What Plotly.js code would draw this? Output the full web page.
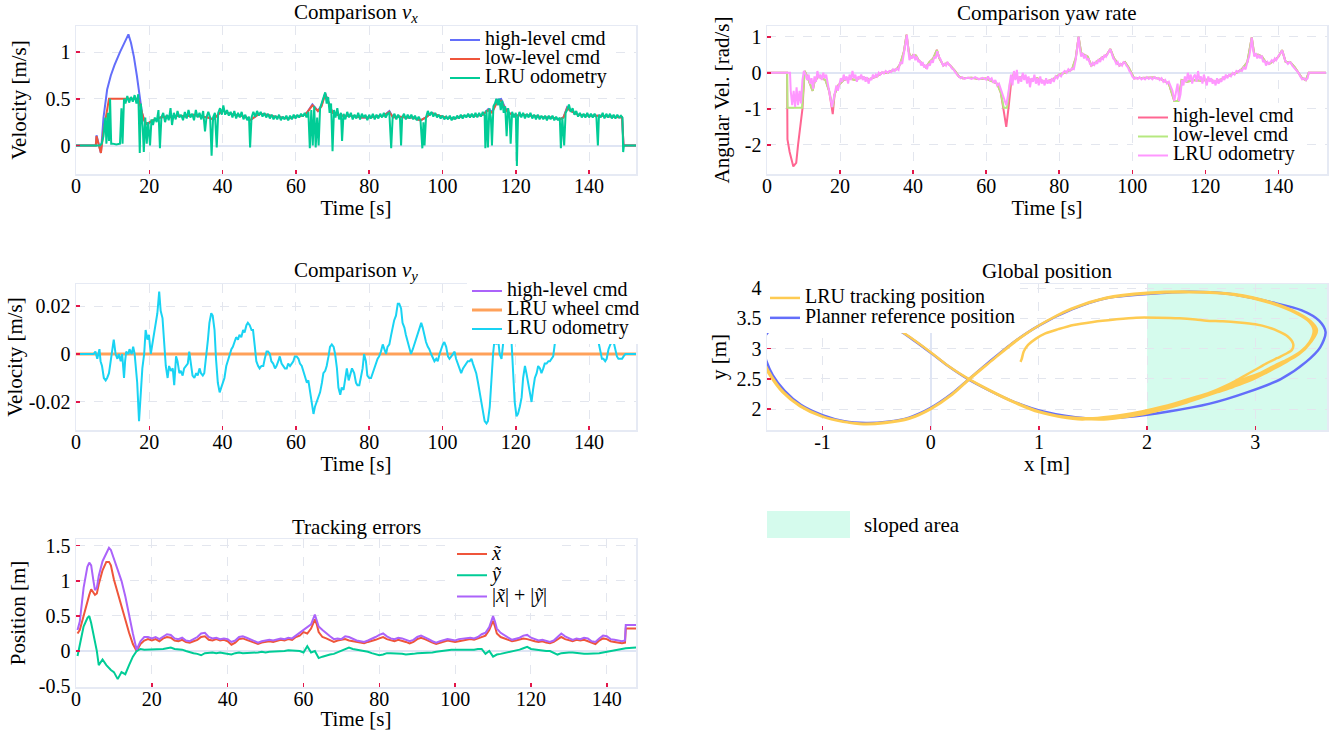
<!DOCTYPE html>
<html><head><meta charset="utf-8">
<script src="https://cdn.plot.ly/plotly-3.0.1.min.js"></script>
<style>body{margin:0;background:#fff}#plot{width:1343px;height:731px}</style>
</head><body><div id="plot"></div>
<script>
// ---------------- DATA ----------------
// Comparison v_x
const vxHighT = [0,5.4,5.6,6.8,7.5,8.5,9.5,10.5,12,13.5,14.3,15,15.8,16.6,17.3,18,18.8,19.5,21,23,25,28,30,32,34,36,37.5,38.5,40,41,43,45,46.5,47.5,48.5,50,52,54,56,58,60,62,63,64.5,66,67,68,69,70,72,75,78,80,82,84,85.5,86.5,88,90,92,94,95.5,97,99,101,103,105,107,109,111,112.5,113.5,115,116,117,118,120,122,124,126,128,130,132,133,134,135,137,140,143,146,149,149.4,153];
const vxHighV = [0,0,0.11,-0.08,0.3,0.6,0.75,0.86,1.0,1.12,1.19,1.1,0.95,0.75,0.55,0.35,0.25,0.23,0.27,0.3,0.31,0.32,0.31,0.33,0.31,0.3,0.28,0.32,0.38,0.35,0.33,0.32,0.3,0.27,0.3,0.34,0.33,0.31,0.3,0.29,0.31,0.32,0.35,0.44,0.37,0.43,0.56,0.45,0.35,0.32,0.32,0.3,0.3,0.31,0.32,0.37,0.3,0.31,0.3,0.3,0.27,0.3,0.35,0.32,0.3,0.29,0.31,0.32,0.32,0.33,0.39,0.36,0.49,0.5,0.41,0.35,0.32,0.33,0.32,0.31,0.3,0.3,0.28,0.3,0.41,0.37,0.33,0.32,0.32,0.31,0.3,0,0];
const vxLowT = [0,5.4,5.6,6.8,7.5,9,12,15,17,17.8,18.6,19.2,21,22,23,25,26,28,30,32,34,36,37.5,38.5,40,41,43,45,46.5,47.5,48.5,50,52,54,56,58,60,62,63,64.5,66,67,68,69,70,72,75,78,80,82,84,85.5,86.5,88,90,92,94,95.5,97,99,101,103,105,107,109,111,112.5,113.5,115,116,117,118,120,122,124,126,128,130,132,133,134,135,137,140,143,146,149,149.4,153];
const vxLowV = [0,0,0.1,-0.08,0.15,0.5,0.5,0.5,0.5,0.38,0.27,0.23,0.27,0.28,0.3,0.31,0.3,0.32,0.31,0.33,0.31,0.3,0.28,0.32,0.38,0.35,0.33,0.32,0.3,0.27,0.3,0.34,0.33,0.31,0.3,0.29,0.31,0.32,0.35,0.43,0.37,0.42,0.55,0.45,0.35,0.32,0.32,0.3,0.3,0.31,0.32,0.36,0.3,0.31,0.3,0.3,0.27,0.3,0.35,0.32,0.3,0.29,0.31,0.32,0.32,0.33,0.38,0.35,0.47,0.48,0.4,0.35,0.32,0.33,0.32,0.31,0.3,0.3,0.28,0.3,0.4,0.37,0.33,0.32,0.32,0.31,0.3,0,0];
const vxOdoT = [0,6.5,7,7.5,8,8.3,8.7,9,9.3,9.6,10,11,12,12.4,12.7,13.1,13.5,14,14.5,15,15.5,16,16.5,17,17.4,17.7,18.2,18.5,18.9,19.3,19.7,20.2,20.6,21,21.5,22,22.5,22.9,23.3,23.8,24.3,24.8,25.3,25.8,26.2,26.7,27.2,27.7,28.2,28.7,29.2,29.7,30.2,30.7,31.2,31.7,32.2,32.7,33.2,33.7,34.2,34.7,35.2,35.6,36.1,36.6,37,37.4,37.9,38.4,38.8,39.3,39.8,40.2,40.7,41.2,41.7,42.2,42.7,43.2,43.7,44.2,44.7,45.2,45.7,46.2,46.7,47.2,47.5,47.9,48.4,48.9,49.4,49.9,50.4,50.9,51.4,51.9,52.4,52.9,53.4,53.9,54.4,54.9,55.4,55.9,56.4,56.9,57.4,57.9,58.4,58.9,59.4,59.9,60.4,60.9,61.4,61.9,62.4,62.9,63.4,63.8,64.2,64.6,65,65.4,65.8,66.2,66.6,67,67.5,68,68.4,68.8,69.2,69.6,70,70.4,70.8,71.3,71.8,72.3,72.6,73,73.5,74,74.5,75,75.5,76,76.5,77,77.5,78,78.5,79,79.5,80,80.5,81,81.5,82,82.5,83,83.5,84,84.5,85,85.5,86,86.4,86.9,87.4,87.9,88.4,88.7,89,89.5,90,90.5,91,91.5,92,92.5,93,93.5,94,94.5,94.8,95.1,95.5,96,96.5,97,97.5,98,98.5,99,99.5,100,100.5,101,101.5,102,102.5,103,103.5,104,104.5,105,105.5,106,106.5,107,107.5,108,108.5,109,109.5,110,110.5,111,111.5,111.7,112,112.4,112.8,113.2,113.5,113.9,114.3,114.7,115.1,115.5,115.9,116.3,116.7,117.1,117.5,117.9,118.3,118.6,119,119.5,120,120.3,120.6,121,121.5,122,122.5,123,123.5,124,124.5,125,125.5,126,126.5,127,127.5,128,128.5,129,129.5,130,130.5,131,131.5,132,132.3,132.7,133.2,133.6,134,134.5,135,135.5,136,136.5,137,137.5,138,138.5,139,139.5,140,140.5,141,141.5,142,142.4,142.7,143.2,143.7,144.2,144.7,145.2,145.7,146.2,146.7,147.2,147.7,148.2,148.7,149.1,149.3,149.5,153];
const vxOdoV = [0,0,0.02,0.1,0.3,0.02,0.35,0.05,0.5,0.02,0.02,0.01,0.02,0.4,0.02,0.5,0.45,0.53,0.46,0.52,0.47,0.54,0.45,0.55,-0.08,0.45,0.2,-0.07,0.3,0.02,0.25,0.0,0.28,0.22,0.3,0.25,0.38,-0.03,0.3,0.35,0.25,0.33,0.27,0.4,0.22,0.35,0.28,0.37,0.3,0.33,0.27,0.36,0.29,0.38,0.3,0.34,0.27,0.38,0.3,0.35,0.28,0.37,0.15,0.3,0.36,0.3,-0.11,0.3,0.35,-0.02,0.35,0.4,0.33,0.43,0.33,0.38,0.32,0.36,0.3,0.37,0.29,0.35,0.3,0.36,0.28,0.33,0.27,0.31,-0.02,0.3,0.36,0.31,0.37,0.32,0.36,0.31,0.35,0.3,0.34,0.29,0.33,0.28,0.32,0.28,0.33,0.27,0.31,0.28,0.32,0.27,0.32,0.28,0.33,0.29,0.33,0.3,0.34,0.31,0.35,0.3,0.36,-0.03,0.38,0.0,0.42,-0.02,0.3,0.0,0.4,0.45,0.5,0.57,0.45,0.52,0.35,0.45,-0.06,0.38,0.3,0.4,0.28,0.35,0.05,0.34,0.28,0.36,0.3,0.35,0.28,0.33,0.29,0.35,0.28,0.34,0.3,0.33,0.27,0.33,0.29,0.34,0.28,0.33,0.29,0.34,0.3,0.35,0.3,0.34,0.35,-0.03,0.3,0.34,0.28,0.33,0.29,0.0,0.3,0.34,0.28,0.33,0.29,0.33,0.28,0.32,0.27,0.31,0.27,-0.03,0.25,0.0,0.3,0.37,0.32,0.36,0.31,0.35,0.3,0.33,0.29,0.32,0.28,0.31,0.28,0.32,0.27,0.31,0.28,0.32,0.29,0.33,0.29,0.33,0.3,0.34,0.3,0.34,0.3,0.35,0.3,0.35,0.31,0.36,0.32,-0.03,0.38,-0.02,0.4,0.3,0.0,0.42,0.45,0.5,0.43,0.5,0.38,0.48,0.35,0.42,0.1,0.4,0.32,0.02,0.36,0.3,0.35,-0.22,0.3,0.36,0.3,0.35,0.29,0.34,0.3,0.35,0.29,0.33,0.28,0.33,0.28,0.32,0.28,0.32,0.27,0.32,0.28,0.32,0.27,0.31,0.27,0.3,-0.03,0.3,0.0,0.35,0.38,0.44,0.36,0.4,0.33,0.37,0.31,0.35,0.3,0.34,0.3,0.35,0.3,0.34,0.3,0.34,0.3,0.0,0.33,0.3,0.35,0.29,0.34,0.3,0.34,0.29,0.33,0.29,0.33,0.3,0.32,0.3,-0.07,0.0,0.0];

// Comparison yaw rate
const yawHighT = [0,5.5,5.6,6.2,7.2,8,8.5,9,9.7,10.3,11,12.5,13,14,15,16,17,18,18.5,19.5,21,22.5,24,26,28,30,31.5,33,34,35.5,36.5,37.5,38.2,38.8,39.3,40,40.8,41.5,42.5,43.5,44.5,45.5,46.5,47.2,48.3,49.3,50.2,51.5,52.5,53.5,56,58,60,61.5,63,64,64.8,65.5,66.2,66.8,67.5,68.5,70,72,74,76,78,80,81.5,82.5,83.5,84.5,85.3,86,87,87.8,88.8,90,91.5,93,94,95,96.5,98,99,100.5,103,106,108,110,111.5,112.6,113.5,115,117,119,121,123,125,127,128.5,130,131.5,132.7,133.4,134.5,135.5,136.5,137.5,139,140,141,142,143.2,144.5,145.5,146.5,147.5,148.3,153];
const yawHighV = [0,0,-1.85,-2.2,-2.6,-2.5,-2.0,-1.5,-1.0,0.05,-0.1,-0.5,-0.25,-0.1,-0.15,-0.2,-0.5,-1.15,-0.6,-0.35,-0.2,-0.15,-0.2,-0.12,-0.18,-0.1,0.0,0.0,0.05,0.1,0.25,0.6,1.06,0.6,0.4,0.5,0.48,0.35,0.25,0.15,0.3,0.4,0.64,0.4,0.2,0.28,0.2,0.05,-0.1,-0.15,-0.14,-0.17,-0.16,-0.22,-0.3,-0.55,-1.0,-1.5,-0.9,-0.3,-0.05,-0.15,-0.1,-0.2,-0.15,-0.25,-0.2,-0.05,0.0,0.05,0.1,0.4,1.0,0.55,0.5,0.45,0.2,0.3,0.4,0.5,0.66,0.4,0.2,0.3,0.15,-0.15,-0.15,-0.13,-0.18,-0.3,-0.78,-0.78,-0.2,-0.25,-0.2,-0.22,-0.18,-0.25,-0.15,-0.05,0.0,0.1,0.3,0.98,0.5,0.5,0.45,0.3,0.25,0.35,0.45,0.63,0.3,0.3,0.15,0.0,-0.15,-0.2,0.0,0];
const yawLowT = [0,5.5,5.6,9.6,10.3,11,12.5,13,14,15,16,17,18,18.5,19.5,21,22.5,24,26,28,30,31.5,33,34,35.5,36.5,37.5,38.2,38.8,39.3,40,40.8,41.5,42.5,43.5,44.5,45.5,46.5,47.2,48.3,49.3,50.2,51.5,52.5,53.5,56,58,60,61.5,63,64,64.8,65.7,66.5,67.5,68.5,70,72,74,76,78,80,81.5,82.5,83.5,84.5,85.3,86,87,87.8,88.8,90,91.5,93,94,95,96.5,98,99,100.5,103,106,108,110,111.5,112.6,113.5,115,117,119,121,123,125,127,128.5,130,131.5,132.7,133.4,134.5,135.5,136.5,137.5,139,140,141,142,143.2,144.5,145.5,146.5,147.5,148.3,153];
const yawLowV = [0,0,-0.97,-0.97,0.05,-0.1,-0.5,-0.25,-0.1,-0.15,-0.2,-0.5,-0.95,-0.6,-0.35,-0.2,-0.15,-0.2,-0.12,-0.18,-0.1,0.0,0.0,0.05,0.1,0.25,0.6,1.05,0.6,0.4,0.5,0.48,0.35,0.25,0.15,0.3,0.4,0.63,0.4,0.2,0.28,0.2,0.05,-0.1,-0.15,-0.14,-0.17,-0.16,-0.22,-0.3,-0.55,-0.97,-0.97,-0.3,-0.05,-0.15,-0.1,-0.2,-0.15,-0.25,-0.2,-0.05,0.0,0.05,0.1,0.4,1.0,0.55,0.5,0.45,0.2,0.3,0.4,0.5,0.66,0.4,0.2,0.3,0.15,-0.15,-0.15,-0.13,-0.18,-0.3,-0.78,-0.78,-0.2,-0.25,-0.2,-0.22,-0.18,-0.25,-0.15,-0.05,0.0,0.1,0.3,0.98,0.5,0.5,0.45,0.3,0.25,0.35,0.45,0.63,0.3,0.3,0.15,0.0,-0.15,-0.2,0.0,0];
const yawOdoT = [0,6.3,6.5,6.9,7.3,7.7,8.1,8.5,8.9,9.3,9.7,10.1,10.6,11,11.4,11.8,12.2,12.6,13,13.4,13.8,14.2,14.6,15,15.4,15.8,16.2,16.6,17,17.4,17.8,18.2,18.6,19,19.4,19.8,20.2,20.6,21,21.4,21.8,22.2,22.6,23,23.4,23.8,24.2,24.6,25,25.4,25.8,26.2,26.6,27,27.4,27.8,28.2,28.6,29,29.4,29.8,30.2,30.6,31,31.5,32,32.5,33,33.5,34,34.5,35,35.5,36,36.5,37,37.5,38,38.3,38.6,39,39.4,39.8,40.2,40.6,41,41.4,41.8,42.2,42.6,43,43.4,43.8,44.2,44.6,45,45.4,45.8,46.2,46.6,47,47.4,47.8,48.2,48.6,49,49.4,49.8,50.2,50.6,51,51.5,52,52.5,53,53.5,54,55,56,57,58,59,60,60.5,61,61.5,62,62.5,63,63.5,64,64.5,65,65.5,66,66.4,66.8,67.2,67.6,68,68.4,68.8,69.2,69.6,70,70.4,70.8,71.2,71.6,72,72.4,72.8,73.2,73.6,74,74.4,74.8,75.2,75.6,76,76.4,76.8,77.2,77.6,78,78.5,79,79.5,80,80.5,81,81.5,82,82.5,83,83.5,84,84.5,85,85.3,85.6,86,86.4,86.8,87.2,87.6,88,88.4,88.8,89.2,89.6,90,90.4,90.8,91.2,91.6,92,92.4,92.8,93.2,93.6,94,94.4,94.8,95.2,95.6,96,96.4,96.8,97.2,97.6,98,98.4,98.8,99.2,99.6,100,100.5,101,101.5,102,102.5,103,103.5,104,104.5,105,105.5,106,106.5,107,107.5,108,108.5,109,109.5,110,110.5,111,111.5,112,112.4,112.8,113.2,113.6,114,114.4,114.8,115.2,115.6,116,116.4,116.8,117.2,117.6,118,118.4,118.8,119.2,119.6,120,120.4,120.8,121.2,121.6,122,122.4,122.8,123.2,123.6,124,124.4,124.8,125.2,125.6,126,126.5,127,127.5,128,128.5,129,129.5,130,130.5,131,131.5,132,132.4,132.7,133,133.4,133.8,134.2,134.6,135,135.4,135.8,136.2,136.6,137,137.4,137.8,138.2,138.6,139,139.4,139.8,140.2,140.6,141,141.4,141.8,142.2,142.6,143,143.4,143.8,144.2,144.6,145,145.5,146,146.5,147,147.5,148,148.3,153];
const yawOdoV = [0,0,-0.5,-0.9,-0.5,-0.95,-0.4,-0.9,-0.5,-0.85,-0.2,0.05,-0.05,-0.2,-0.05,-0.3,-0.15,-0.45,-0.1,-0.25,0.05,-0.15,-0.05,-0.2,0.0,-0.15,-0.05,-0.3,-0.45,-0.7,-0.95,-0.75,-0.55,-0.35,-0.5,-0.3,-0.15,-0.25,-0.05,-0.2,-0.1,-0.3,-0.05,-0.2,0.05,-0.15,-0.05,-0.25,-0.1,-0.15,-0.05,-0.2,-0.1,-0.25,-0.12,-0.3,-0.15,-0.2,-0.05,-0.15,-0.05,-0.1,0.0,-0.05,0.02,-0.02,0.05,0.0,0.05,0.02,0.1,0.05,0.12,0.08,0.3,0.25,0.55,0.8,1.05,0.7,0.35,0.45,0.4,0.52,0.35,0.45,0.3,0.35,0.2,0.3,0.15,0.22,0.1,0.25,0.2,0.35,0.28,0.45,0.4,0.6,0.45,0.4,0.3,0.2,0.25,0.2,0.3,0.22,0.2,0.12,0.1,0.02,-0.05,-0.1,-0.15,-0.12,-0.17,-0.13,-0.17,-0.12,-0.18,-0.14,-0.19,-0.1,-0.2,-0.15,-0.28,-0.2,-0.35,-0.3,-0.45,-0.6,-0.75,-0.9,-0.6,-0.3,-0.05,-0.35,0.05,-0.2,0.08,-0.3,-0.1,-0.25,0.0,-0.2,-0.05,-0.3,-0.1,-0.4,-0.15,-0.25,-0.05,-0.3,-0.15,-0.35,-0.1,-0.3,-0.2,-0.35,-0.15,-0.3,-0.2,-0.3,-0.15,-0.25,-0.1,-0.15,-0.05,-0.1,0.0,0.05,0.0,0.1,0.05,0.12,0.1,0.35,0.7,1.0,0.7,0.45,0.55,0.4,0.5,0.35,0.4,0.25,0.2,0.28,0.22,0.3,0.25,0.38,0.3,0.42,0.38,0.5,0.45,0.55,0.6,0.65,0.5,0.4,0.35,0.25,0.3,0.2,0.25,0.2,0.3,0.28,0.2,0.15,0.05,0.0,-0.1,-0.17,-0.13,-0.17,-0.12,-0.18,-0.14,-0.18,-0.12,-0.17,-0.13,-0.18,-0.12,-0.16,-0.14,-0.2,-0.15,-0.25,-0.2,-0.3,-0.25,-0.4,-0.5,-0.78,-0.5,-0.3,-0.78,-0.6,-0.2,-0.35,-0.1,-0.25,0.0,-0.2,-0.05,-0.3,-0.1,-0.05,-0.25,0.05,-0.2,-0.1,-0.3,-0.05,-0.2,-0.35,-0.1,-0.25,-0.15,-0.3,-0.2,-0.35,-0.15,-0.3,-0.2,-0.25,-0.1,-0.2,-0.05,-0.15,-0.05,-0.1,0.0,-0.05,0.05,0.02,0.08,0.05,0.15,0.1,0.3,0.45,0.7,0.98,0.7,0.45,0.55,0.4,0.5,0.4,0.48,0.3,0.35,0.2,0.3,0.25,0.3,0.35,0.3,0.4,0.35,0.45,0.5,0.55,0.62,0.5,0.35,0.3,0.25,0.3,0.28,0.2,0.15,0.1,0.05,0.0,-0.1,-0.18,-0.15,-0.2,-0.15,0.0,0];

// Comparison v_y
const vyCmdT = [0,153];
const vyHighV = [0,0];
const vyWheelV = [0,0];
const vyOdoT = [0,4.8,5.3,5.8,6.4,6.7,7.1,7.6,8.1,8.5,9,9.4,9.9,10.3,10.8,11.3,11.7,12.2,12.6,13.1,13.4,13.7,14.3,14.6,15.2,15.6,16,16.3,16.7,17.2,17.7,18.1,18.6,19,19.5,19.9,20.4,20.9,21.3,21.8,22.2,22.7,23.1,23.6,24.1,24.5,25,25.4,25.9,26.4,26.8,27.3,27.7,28.2,28.6,29.1,29.5,30,30.5,30.9,31.4,31.8,32.3,32.8,33.2,33.7,34.1,34.6,35,35.5,36,36.4,36.9,37.3,37.8,38.2,38.7,39.2,39.6,40.1,40.5,41,41.4,41.9,42.4,42.8,43.3,43.7,44.2,44.6,45.1,45.6,46,46.5,46.9,47.4,47.9,48.3,48.8,49.2,49.7,50.1,50.6,51.1,51.5,52,52.4,52.9,53.3,53.8,54.3,54.7,55.2,55.6,56.1,56.5,57,57.5,57.9,58.4,58.8,59.3,59.7,60.2,60.7,61.1,61.6,62,62.5,63,63.4,63.9,64.3,64.8,65.2,65.7,66.1,66.6,67.1,67.5,68,68.4,68.9,69.3,69.8,70.3,70.7,71.2,71.6,72.1,72.5,73,73.5,73.9,74.4,74.8,75.3,75.9,76.4,76.8,77.3,77.7,78.2,78.6,79.1,79.5,80,80.5,80.9,81.4,81.8,82.3,82.7,83.2,83.7,84.1,84.6,85,85.5,86,86.4,86.8,87.3,87.8,88.2,88.7,89.1,89.6,90,90.5,91,91.4,91.9,92.3,92.8,93.2,93.7,94.2,94.6,95.1,95.5,96,96.4,96.9,97.4,97.8,98.3,98.7,99.2,99.6,100.1,100.5,101,101.5,101.9,102.4,102.8,103.3,103.7,104.2,104.7,105.1,105.6,106,106.5,106.9,107.4,107.9,108.3,108.8,109.2,109.7,110.1,110.6,111.1,111.5,112,112.4,112.9,113.3,113.8,114.2,114.7,115.2,115.6,116.1,116.5,116.8,117.2,117.9,118.6,119,119.5,119.7,120.2,120.6,121.1,121.6,122,122.5,122.9,123.4,123.8,124.3,124.7,125.2,125.7,126.1,126.6,127,127.5,127.9,128.4,128.9,129.3,129.8,130.2,130.7,131.1,131.6,132.5,133.3,133.8,134.3,134.8,135.3,135.8,136.3,136.8,137.3,137.8,138.3,138.8,139.3,139.8,140.3,140.8,141.3,141.8,142.3,142.7,143.1,143.5,143.9,144.4,144.8,145.3,145.8,146.2,146.7,147.1,147.6,148,148.5,149,149.4,149.9,150.3,153];
const vyOdoV = [0,0,0.001,-0.002,0.002,-0.003,-0.005,-0.01,-0.011,-0.01,-0.008,-0.004,0.002,0.006,0.0,-0.002,0.0,-0.003,0.0,-0.01,-0.003,0.001,0.0,0.002,0.0,0.003,0.0,-0.006,-0.012,-0.028,-0.015,-0.006,0.0,0.01,0.006,0.008,0.0,0.005,0.008,0.013,0.017,0.026,0.018,0.015,0.005,-0.005,-0.01,-0.005,-0.007,-0.006,-0.013,-0.001,-0.003,-0.008,-0.007,-0.009,-0.006,-0.005,-0.004,0.001,-0.005,-0.009,-0.01,-0.008,-0.009,-0.006,-0.008,-0.009,-0.008,-0.002,0.006,0.013,0.017,0.016,0.01,-0.002,-0.012,-0.016,-0.014,-0.012,-0.01,-0.005,-0.003,0.0,0.002,0.003,0.005,0.007,0.006,0.008,0.007,0.01,0.009,0.012,0.013,0.012,0.01,0.01,0.003,-0.003,-0.005,-0.006,-0.005,-0.005,-0.002,0.001,0.001,0.0,-0.003,-0.004,-0.006,-0.005,-0.003,-0.001,-0.004,-0.005,-0.006,-0.006,-0.004,-0.005,-0.004,-0.003,-0.001,-0.001,-0.002,-0.004,-0.005,-0.007,-0.009,-0.012,-0.011,-0.016,-0.02,-0.025,-0.022,-0.02,-0.018,-0.016,-0.012,-0.008,-0.007,-0.005,-0.001,0.003,0.004,0.003,0.0,-0.006,-0.014,-0.017,-0.014,-0.015,-0.01,-0.006,-0.011,-0.009,-0.006,-0.008,-0.012,-0.013,-0.013,-0.01,-0.006,0.0,-0.003,-0.009,-0.01,-0.01,-0.008,-0.006,-0.004,-0.002,-0.001,0.001,0.004,0.002,0.0,0.003,0.004,0.008,0.012,0.014,0.016,0.021,0.021,0.019,0.013,0.011,0.008,0.005,0.003,0.0,0.002,0.004,0.006,0.009,0.011,0.013,0.011,0.007,0.005,0.003,0.002,0.0,-0.002,-0.003,-0.002,-0.003,0.0,0.002,0.004,0.005,0.003,-0.001,-0.002,-0.001,0.0,0.001,-0.002,-0.004,-0.006,-0.008,-0.006,-0.005,-0.004,-0.003,-0.003,-0.002,-0.004,-0.006,-0.008,-0.012,-0.016,-0.02,-0.025,-0.028,-0.029,-0.028,-0.022,-0.01,0.0,0.006,0.004,0.006,0.0,-0.002,0.005,0.008,0.012,0.015,0.012,0.0,-0.01,-0.02,-0.026,-0.025,-0.022,-0.018,-0.01,-0.005,-0.008,-0.012,-0.015,-0.02,-0.015,-0.01,-0.008,-0.005,-0.006,-0.008,-0.006,-0.004,-0.004,-0.003,-0.003,-0.002,-0.001,0.005,0.01,0.012,0.011,0.008,0.01,0.007,0.009,0.008,0.01,0.007,0.009,0.01,0.006,0.009,0.007,0.01,0.008,0.009,0.006,0.008,0.009,0.007,0.004,0.001,-0.002,-0.002,-0.003,-0.002,0.002,0.004,0.005,0.005,0.002,-0.001,-0.002,-0.002,-0.002,-0.001,0.0,0.0,0.0];

// Global position
const slopedX = [2, 3.663];
const startX = [0.83,0.84,0.86,0.9,0.97,1.06,1.18,1.32,1.5,1.7,1.9,2.1,2.3,2.45,2.55,2.7,2.85,3.0,3.12,3.22,3.3,3.35,3.34,3.28,3.2,3.1,3.0,2.9,2.8,2.72,2.62,2.5,2.38,2.25,2.1,1.95,1.8,1.6];
const startY = [2.78,2.82,2.95,3.06,3.16,3.25,3.32,3.39,3.44,3.48,3.51,3.51,3.5,3.48,3.46,3.45,3.43,3.4,3.35,3.28,3.2,3.08,2.98,2.91,2.84,2.75,2.65,2.55,2.45,2.38,2.3,2.22,2.15,2.08,2.01,1.95,1.9,1.86];
const lap1X = [1.4,1.2,1.0,0.77,0.55,0.35,0.15,0.0,-0.2,-0.36,-0.52,-0.72,-0.92,-1.12,-1.32,-1.47,-1.55,-1.57,-1.54,-1.47,-1.36,-1.2,-1.0,-0.8,-0.62,-0.42,-0.2,0.0,0.2,0.35,0.55,0.78,1.0,1.3,1.62,2.0,2.4,2.8,3.15,3.4,3.53,3.57,3.52,3.4,3.25,3.1,2.95,2.8,2.65,2.5,2.35,2.2,2.0,1.8,1.6];
const lap1Y = [1.83,1.87,1.95,2.11,2.3,2.5,2.73,2.94,3.2,3.38,3.5,3.6,3.64,3.62,3.52,3.38,3.2,3.0,2.78,2.54,2.28,2.05,1.88,1.79,1.75,1.77,1.84,2.0,2.24,2.48,2.78,3.12,3.38,3.66,3.84,3.92,3.94,3.9,3.76,3.58,3.42,3.3,3.12,2.92,2.74,2.6,2.47,2.37,2.28,2.19,2.1,2.02,1.93,1.87,1.83];
const lap2X = [1.4,1.2,1.0,0.77,0.55,0.35,0.15,0.0,-0.2,-0.36,-0.52,-0.72,-0.92,-1.12,-1.32,-1.47,-1.56,-1.58,-1.55,-1.48,-1.37,-1.21,-1.01,-0.81,-0.63,-0.43,-0.2,0.0,0.2,0.35,0.55,0.78,1.0,1.3,1.62,2.0,2.4,2.8,3.14,3.38,3.5,3.54,3.5,3.42,3.3,3.18,3.05,2.9,2.75,2.6,2.45,2.3,2.12,1.95,1.75,1.5];
const lap2Y = [1.84,1.88,1.96,2.12,2.31,2.5,2.73,2.94,3.2,3.38,3.5,3.6,3.64,3.62,3.52,3.38,3.2,3.0,2.78,2.54,2.28,2.05,1.88,1.79,1.76,1.78,1.85,2.01,2.25,2.49,2.78,3.11,3.38,3.65,3.83,3.91,3.93,3.89,3.75,3.58,3.44,3.3,3.1,2.95,2.82,2.72,2.6,2.5,2.38,2.28,2.2,2.12,2.03,1.96,1.9,1.85];
const lap3X = [1.3,1.0,0.77,0.55,0.35,0.15,0.0,-0.2,-0.36,-0.52,-0.72,-0.92,-1.12,-1.32,-1.47,-1.55,-1.57,-1.54,-1.47,-1.36,-1.2,-1.0,-0.8,-0.62,-0.42,-0.2,0.0,0.2,0.35,0.55,0.78,1.0,1.3,1.62,2.0,2.4,2.8,3.15,3.39,3.52,3.56,3.51,3.4,3.28,3.15,3.0,2.88,2.72,2.6,2.45];
const lap3Y = [1.86,1.95,2.11,2.3,2.5,2.73,2.94,3.2,3.38,3.5,3.6,3.64,3.62,3.52,3.38,3.2,3.0,2.78,2.54,2.28,2.05,1.88,1.79,1.75,1.77,1.84,2.0,2.24,2.48,2.78,3.12,3.38,3.66,3.84,3.92,3.94,3.9,3.76,3.58,3.43,3.3,3.1,2.9,2.78,2.66,2.55,2.45,2.36,2.27,2.19];
const refX = [0.35,0.155,0.0,-0.19,-0.35,-0.5,-0.7,-0.9,-1.1,-1.3,-1.45,-1.53,-1.55,-1.52,-1.46,-1.35,-1.2,-1.0,-0.8,-0.6,-0.4,-0.2,0.0,0.2,0.35,0.54,0.77,1.0,1.31,1.62,2.0,2.39,2.77,3.16,3.43,3.59,3.65,3.6,3.47,3.24,2.93,2.58,2.2,1.81,1.43,1.04,0.77,0.54,0.35];
const refY = [2.49,2.72,2.93,3.18,3.36,3.48,3.58,3.62,3.6,3.5,3.37,3.2,3.0,2.8,2.56,2.3,2.07,1.9,1.8,1.77,1.79,1.86,2.02,2.26,2.49,2.78,3.11,3.38,3.65,3.83,3.9,3.94,3.9,3.76,3.63,3.46,3.27,3.02,2.78,2.5,2.28,2.09,1.96,1.87,1.85,1.96,2.12,2.31,2.49];

// Tracking errors
const errT = [0.4,1,2,3,3.5,4,4.6,5,5.5,6,7,8,8.7,9.2,10,11,12,13,14,15,16,17,18,19,20,21,22,23,24,25,26,27,28,29,30,31,32,33,34,35,36,37,38,39,40,41,42,43,44,45,46,47,48,49,50,51,52,53,54,55,56,57,58,59,60,61,62,63,63.5,64,65,66,67,68,69,70,71,72,73,74,75,76,77,78,79,80,81,82,83,84,85,86,87,88,89,90,91,92,93,94,95,96,97,98,99,100,101,102,103,104,105,106,107,108,109,110,110.5,111,112,113,114,115,116,117,118,119,120,121,122,123,124,125,126,127,128,129,130,131,132,133,134,135,136,137,138,139,140,141,142,143,144,144.8,145,148];
const errX = [0.25,0.3,0.5,0.72,0.8,0.88,0.82,0.8,0.82,0.95,1.15,1.27,1.27,1.22,1.02,0.82,0.62,0.42,0.26,0.1,0.0,
  0.1,0.15,0.17,0.15,0.17,0.14,0.18,0.2,0.19,0.15, 0.14,0.16,0.13,0.12,0.14,0.16,0.2,0.21,0.16,0.15,
  0.17,0.15,0.16,0.14,0.09,0.12,0.17,0.18,0.16,0.14, 0.12,0.1,0.12,0.13,0.14,0.13,0.15,0.16,0.15,0.17,
  0.16,0.2,0.22,0.27,0.25,0.32,0.45, 0.38,
  0.27,0.2,0.18,0.16,0.13,0.15,0.16,0.17,0.15,0.14, 0.13,0.12,0.11,0.13,0.14,0.16,0.18,0.2,0.17,0.15,
  0.14,0.16,0.15,0.13,0.11,0.13,0.17,0.19,0.17,0.14, 0.12,0.1,0.12,0.14,0.15,0.14,0.13,0.14,0.15,0.16,
  0.17,0.16,0.18,0.2,0.22,0.3,0.43, 0.35,
  0.25,0.2,0.18,0.16,0.14,0.15,0.16,0.18,0.17,0.15, 0.14,0.13,0.14,0.12,0.11,0.13,0.16,0.2,0.17,0.15,
  0.14,0.16,0.15,0.16,0.14,0.11,0.1,0.15,0.18,0.17, 0.14,0.13,0.12,0.11, 0.12,0.32,0.32];
const errY = [-0.07,0.1,0.35,0.47,0.5,0.4,0.25,0.15,0.0,-0.2,-0.12,-0.2,-0.25,-0.27,-0.3,-0.4,-0.3,-0.33,-0.2,-0.08,0.0,
  0.03,0.02,0.02,0.03,0.02,0.02,0.03,0.04,0.05,0.03, 0.03,0.02,0.0,-0.02,-0.03,-0.04,-0.06,-0.03,-0.02,-0.02,
  -0.03,-0.02,-0.03,-0.04,-0.05,-0.03,-0.02,-0.03,-0.03,-0.03, -0.02,-0.02,-0.01,-0.02,-0.01,-0.01,0.0,0.0,0.0,0.01,
  0.01,0.01,0.0,-0.02,0.07,-0.02,0.0, -0.05,
  -0.1,-0.08,-0.06,-0.05,-0.04,-0.02,0.0,0.02,0.05,0.03, 0.02,0.02,0.0,-0.01,-0.03,-0.04,-0.06,-0.05,-0.03,-0.03,
  -0.03,-0.03,-0.04,-0.05,-0.05,-0.04,-0.03,-0.03,-0.02,-0.03, -0.02,-0.01,0.0,0.01,0.02,0.02,0.02,0.02,0.01,0.01,
  0.01,0.02,0.03,0.03,-0.04,0.0,-0.08, -0.06,
  -0.05,-0.04,-0.03,-0.02,-0.01,0.0,0.02,0.04,0.06,0.03, 0.02,0.01,0.0,0.0,0.0,-0.02,-0.05,-0.03,-0.02,-0.02,
  -0.02,-0.03,-0.04,-0.04,-0.04,-0.04,-0.03,-0.03,-0.02,-0.01, 0.0,0.01,0.02,0.03, 0.03,0.04,0.05];
const errSum = [0.3,0.42,0.9,1.2,1.26,1.22,1.0,0.87,0.9,1.07,1.28,1.38,1.47,1.44,1.32,1.17,1.0,0.78,0.5,0.25,0.02,
  0.14,0.2,0.2,0.18,0.2,0.17,0.21,0.24,0.23,0.18, 0.17,0.19,0.15,0.14,0.17,0.2,0.25,0.26,0.2,0.18,
  0.19,0.17,0.18,0.17,0.13,0.15,0.2,0.21,0.19,0.17, 0.14,0.12,0.14,0.15,0.16,0.15,0.17,0.18,0.17,0.19,
  0.18,0.22,0.25,0.3,0.33,0.38,0.52, 0.44,
  0.35,0.3,0.25,0.21,0.17,0.18,0.17,0.21,0.2,0.17, 0.15,0.14,0.13,0.15,0.17,0.2,0.23,0.25,0.21,0.18,
  0.17,0.19,0.18,0.16,0.14,0.16,0.2,0.22,0.2,0.17, 0.14,0.12,0.14,0.16,0.17,0.16,0.15,0.17,0.18,0.19,
  0.19,0.18,0.2,0.24,0.26,0.34,0.5, 0.42,
  0.32,0.26,0.22,0.19,0.16,0.17,0.19,0.22,0.23,0.19, 0.17,0.15,0.16,0.14,0.13,0.15,0.2,0.25,0.21,0.18,
  0.16,0.18,0.17,0.19,0.18,0.14,0.13,0.18,0.22,0.21, 0.17,0.16,0.15,0.14, 0.15,0.37,0.37];

// Labels
const timeTicks = [0,20,40,60,80,100,120,140];
const vxTicks = [0,0.5,1], vxTickText = ['0','0.5','1'];
const yawTicks = [-2,-1,0,1], yawTickText = ['-2','-1','0','1'];
const vyTicks = [-0.02,0,0.02], vyTickText = ['-0.02','0','0.02'];
const posXTicks = [-1,0,1,2,3], posXTickText = ['-1','0','1','2','3'];
const posYTicks = [2,2.5,3,3.5,4], posYTickText = ['2','2.5','3','3.5','4'];
const errTicks = [-0.5,0,0.5,1,1.5], errTickText = ['-0.5','0','0.5','1','1.5'];
const names = {
  vx: ['high-level cmd','low-level cmd','LRU odometry'],
  yaw: ['high-level cmd','low-level cmd','LRU odometry'],
  vy: ['high-level cmd','LRU wheel cmd','LRU odometry'],
  pos: ['LRU tracking position','Planner reference position'],
  err: ['<i>x̃</i>','<i>ỹ</i>','|<i>x̃</i>| + |<i>ỹ</i>|']
};

// ---------------- LAYOUT ----------------
const W = 1343, H = 731;
const FONT = 'Liberation Serif';
const px = v => v / W, py = v => 1 - v / H;
const big = s => '<span style="font-size:20px">' + s + '</span>';

const C = {blue:'#636efa', red:'#EF553B', green:'#00cc96', purple:'#ab63fa', orange:'#FFA15A',
  cyan:'#19d3f3', pink:'#FF6692', lgreen:'#B6E880', magenta:'#FF97FF', yellow:'#FECB52'};

function axisBase(extra) {
  return Object.assign({
    showline: true, mirror: true, linecolor: '#e6eaf4', linewidth: 1.5,
    showgrid: true, gridcolor: '#e3e6ee', griddash: 'dash', gridwidth: 1,
    zeroline: true, zerolinecolor: '#dfe5f4', zerolinewidth: 2,
    ticks: 'inside', ticklen: 4, tickwidth: 1.5, tickcolor: '#e3174a',
    tickfont: {family: FONT, size: 20, color: '#000'},
  }, extra);
}
function xAx(dom, rng, anchor, tv, tt, title) {
  return axisBase({domain: dom, range: rng, anchor: anchor, tickmode: 'array', tickvals: tv, ticktext: tt,
    ticklabelstandoff: -7,
    title: {text: title, standoff: 0, font: {family: FONT, size: 21, color: '#000'}}});
}
function yAx(dom, rng, anchor, tv, tt, title, so) {
  return axisBase({domain: dom, range: rng, anchor: anchor, tickmode: 'array', tickvals: tv, ticktext: tt,
    title: {text: title, standoff: so, font: {family: FONT, size: 21, color: '#000'}}});
}

const colL = [px(76), px(636)], colR = [px(767), px(1327)];
const row1 = [py(174), py(26)], row2 = [py(430), py(284)], row3 = [py(687), py(539)];

function legendAt(textX, topY, fs) {
  return {x: px(textX - 40), y: py(topY), xanchor: 'left', yanchor: 'top', bgcolor: '#ffffff',
    borderwidth: 0, font: {family: FONT, size: fs, color: '#000'}, tracegroupgap: 0, itemwidth: 30};
}

const line = (c, w) => ({color: c, width: w});
const timeText = timeTicks.map(String);
const traces = [
  {x: vxHighT, y: vxHighV, name: big(names.vx[0]), line: line(C.blue, 2), xaxis: 'x', yaxis: 'y', legend: 'legend'},
  {x: vxLowT, y: vxLowV, name: big(names.vx[1]), line: line(C.red, 2), xaxis: 'x', yaxis: 'y', legend: 'legend'},
  {x: vxOdoT, y: vxOdoV, name: big(names.vx[2]), line: line(C.green, 2), xaxis: 'x', yaxis: 'y', legend: 'legend'},

  {x: yawHighT, y: yawHighV, name: big(names.yaw[0]), line: line(C.pink, 2), xaxis: 'x2', yaxis: 'y2', legend: 'legend2'},
  {x: yawLowT, y: yawLowV, name: big(names.yaw[1]), line: line(C.lgreen, 2), xaxis: 'x2', yaxis: 'y2', legend: 'legend2'},
  {x: yawOdoT, y: yawOdoV, name: big(names.yaw[2]), line: line(C.magenta, 2), xaxis: 'x2', yaxis: 'y2', legend: 'legend2'},

  {x: vyCmdT, y: vyHighV, name: big(names.vy[0]), line: line(C.purple, 2), xaxis: 'x3', yaxis: 'y3', legend: 'legend3'},
  {x: vyCmdT, y: vyWheelV, name: big(names.vy[1]), line: line(C.orange, 3), xaxis: 'x3', yaxis: 'y3', legend: 'legend3'},
  {x: vyOdoT, y: vyOdoV, name: big(names.vy[2]), line: line(C.cyan, 2), xaxis: 'x3', yaxis: 'y3', legend: 'legend3'},

  {x: refX, y: refY, name: big(names.pos[1]), legendrank: 2, line: {color: C.blue, width: 2.5, shape: 'spline', smoothing: 0.8}, xaxis: 'x4', yaxis: 'y4', legend: 'legend4'},
  {x: startX.concat(lap1X, lap2X, lap3X), y: startY.concat(lap1Y, lap2Y, lap3Y), name: big(names.pos[0]), legendrank: 1,
    line: {color: C.yellow, width: 2.5, shape: 'spline', smoothing: 0.8}, xaxis: 'x4', yaxis: 'y4', legend: 'legend4'},

  {x: errT, y: errX, name: big(names.err[0]), line: line(C.red, 2), xaxis: 'x5', yaxis: 'y5', legend: 'legend5'},
  {x: errT, y: errY, name: big(names.err[1]), line: line(C.green, 2), xaxis: 'x5', yaxis: 'y5', legend: 'legend5'},
  {x: errT, y: errSum, name: big(names.err[2]), line: line(C.purple, 2), xaxis: 'x5', yaxis: 'y5', legend: 'legend5'},
].map(t => Object.assign({type: 'scatter', mode: 'lines', hoverinfo: 'skip'}, t));

function title(text, x, y) {
  return {text: text, xref: 'paper', yref: 'paper', x: px(x), y: py(y), xanchor: 'center', yanchor: 'middle',
    showarrow: false, font: {family: FONT, size: 21, color: '#000'}};
}

const layout = {
  width: W, height: H, autosize: false,
  margin: {l: 0, r: 0, t: 0, b: 0},
  paper_bgcolor: '#fff', plot_bgcolor: '#fff',
  font: {family: FONT, color: '#000'},
  xaxis: xAx(colL, [0, 152.8], 'y', timeTicks, timeText, 'Time [s]'),
  yaxis: yAx(row1, [-0.305, 1.28], 'x', vxTicks, vxTickText, 'Velocity [m/s]', 13),
  xaxis2: xAx(colR, [0, 153.3], 'y2', timeTicks, timeText, 'Time [s]'),
  yaxis2: yAx(row1, [-2.81, 1.3], 'x2', yawTicks, yawTickText, 'Angular Vel. [rad/s]', 9),
  xaxis3: xAx(colL, [0, 152.8], 'y3', timeTicks, timeText, 'Time [s]'),
  yaxis3: yAx(row2, [-0.0317, 0.0292], 'x3', vyTicks, vyTickText, 'Velocity [m/s]', 0),
  xaxis4: xAx(colR, [-1.513, 3.663], 'y4', posXTicks, posXTickText, 'x [m]'),
  yaxis4: yAx(row2, [1.655, 4.066], 'x4', posYTicks, posYTickText, 'y [m]', 4),
  xaxis5: xAx(colL, [0, 147.7], 'y5', timeTicks, timeText, 'Time [s]'),
  yaxis5: yAx(row3, [-0.512, 1.596], 'x5', errTicks, errTickText, 'Position [m]', 7),
  legend: legendAt(485, 25.5, 12),
  legend2: legendAt(1173, 103, 12),
  legend3: legendAt(507, 276.5, 12),
  legend4: legendAt(805, 283, 13),
  legend5: legendAt(492, 538.5, 14),
  shapes: [
    {type: 'rect', xref: 'x4', yref: 'y4 domain', x0: slopedX[0], x1: slopedX[1], y0: 0, y1: 1,
      fillcolor: '#d5fbed', line: {width: 0}, layer: 'below'},
    {type: 'rect', xref: 'paper', yref: 'paper', x0: px(767), x1: px(850), y0: py(538), y1: py(511),
      fillcolor: '#d5fbed', line: {width: 0}}
  ],
  annotations: [
    title('Comparison <i>v<sub>x</sub></i>', 356, 13),
    title('Comparison yaw rate', 1047, 13),
    title('Comparison <i>v<sub>y</sub></i>', 356, 271),
    title('Global position', 1047, 271),
    title('Tracking errors', 356, 527),
    {text: 'sloped area', xref: 'paper', yref: 'paper', x: px(862), y: py(525), xanchor: 'left', yanchor: 'middle',
      showarrow: false, font: {family: FONT, size: 21, color: '#000'}}
  ]
};

Plotly.newPlot('plot', traces, layout, {staticPlot: true, displayModeBar: false});
</script>
</body></html>
